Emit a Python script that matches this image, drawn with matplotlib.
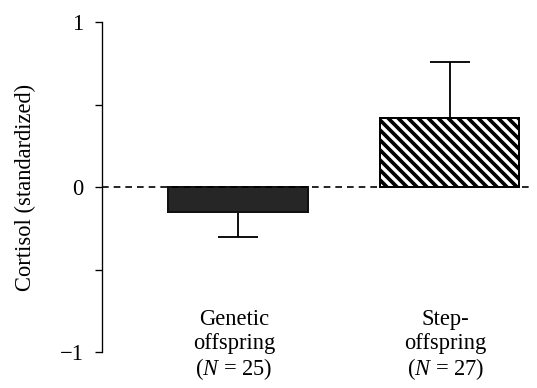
import matplotlib
matplotlib.use("Agg")
import matplotlib.pyplot as plt

categories = ["Genetic\noffspring", "Step-\noffspring"]
sample_sizes = [25, 27]
means = [-0.15, 0.42]
errors = [0.15, 0.34]

plt.rcParams['font.family'] = ['Liberation Serif', 'DejaVu Serif']
plt.rcParams['mathtext.fontset'] = 'custom'
plt.rcParams['mathtext.rm'] = 'Liberation Serif'
plt.rcParams['mathtext.it'] = 'Liberation Serif:italic'
plt.rcParams['hatch.linewidth'] = 2.2

dpi = 120
fig = plt.figure(figsize=(537 / dpi, 388 / dpi), dpi=dpi)
ax = fig.add_axes([102 / 537, 36 / 388, (530 - 102) / 537, (352 - 22) / 388])

x = list(range(len(categories)))
styles = [dict(color='#262626', edgecolor='#111111'),
          dict(color='white', edgecolor='black', hatch='\\\\\\\\')]
for i in x:
    ax.bar(i, means[i], width=0.66, linewidth=1.2, zorder=2, **styles[i])
    sign = -1 if means[i] < 0 else 1
    ax.errorbar(i, means[i], yerr=[[errors[i]] if sign < 0 else [0], [errors[i]] if sign > 0 else [0]],
                fmt='none', ecolor='black', elinewidth=1.1, capsize=12, capthick=1.1, zorder=1)

ax.axhline(0, color='black', linestyle=(0, (4, 3)), linewidth=1.0, zorder=3)

for i in x:
    ax.text(i - 0.02, -0.74, categories[i] + "\n" + r"($\mathit{N}$ = %d)" % sample_sizes[i],
            ha='center', va='top', fontsize=13.5, linespacing=1.15)

ax.set_xlim(-0.643, 1.38)
ax.set_ylim(-1, 1)
ax.set_yticks([-1, -0.5, 0, 0.5, 1])
ax.set_yticklabels(["\u22121", "", "0", "", "1"])
ax.tick_params(axis='y', direction='out', length=4, width=0.8, pad=7, labelsize=13.5)
ax.set_xticks([])
for s in ['top', 'right', 'bottom']:
    ax.spines[s].set_visible(False)
ax.spines['left'].set_linewidth(0.8)
ax.set_ylabel("Cortisol (standardized)", fontsize=13.5, labelpad=14)
ax.patch.set_alpha(0)

fig.savefig("out.png", dpi=dpi)
